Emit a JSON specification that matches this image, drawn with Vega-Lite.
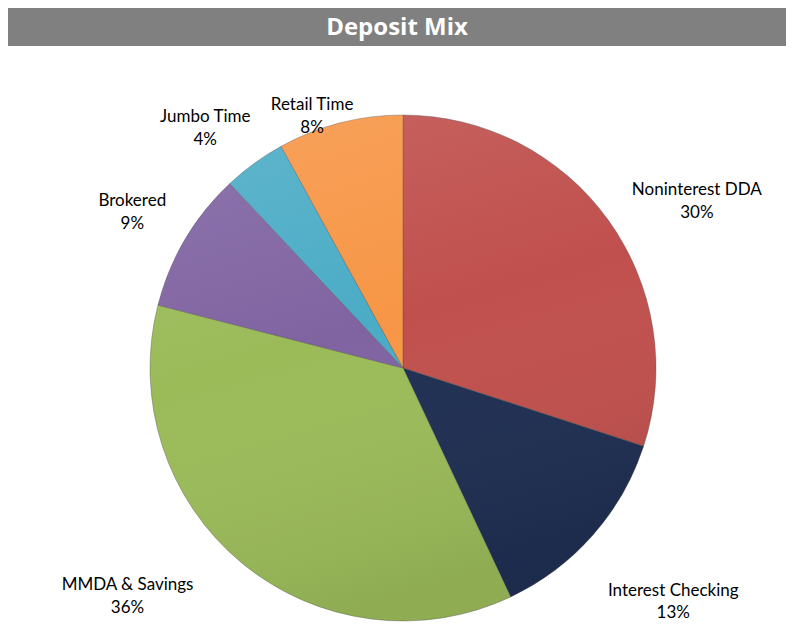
{
  "$schema": "https://vega.github.io/schema/vega-lite/v6.json",
  "padding": {"left": 8, "top": 8, "right": 0, "bottom": 0},
  "background": "#ffffff",
  "spacing": 0,
  "config": {"view": {"stroke": null}, "concat": {"spacing": 0}},
  "datasets": {
    "mix": [
      {"segment": "Noninterest DDA", "pct": 30, "order": 1},
      {"segment": "Interest Checking", "pct": 13, "order": 2},
      {"segment": "MMDA & Savings", "pct": 36, "order": 3},
      {"segment": "Brokered", "pct": 9, "order": 4},
      {"segment": "Jumbo Time", "pct": 4, "order": 5},
      {"segment": "Retail Time", "pct": 8, "order": 6}
    ],
    "header": [{"title": "Deposit Mix"}]
  },
  "vconcat": [
    {
      "width": 778,
      "height": 38,
      "view": {"fill": "#808080", "stroke": null},
      "data": {"name": "header"},
      "mark": {"type": "text", "font": "Open Sans", "fontWeight": "bold", "fontSize": 24, "color": "#ffffff", "align": "center", "baseline": "middle", "dy": 1},
      "encoding": {"text": {"field": "title"}}
    },
    {
      "width": 790,
      "height": 644,
      "data": {"name": "mix"},
      "transform": [
        {"window": [{"op": "sum", "field": "pct", "as": "end"}], "sort": [{"field": "order"}]},
        {"calculate": "datum.end - datum.pct", "as": "start"},
        {"calculate": "(datum.start + datum.end) / 2", "as": "mid"},
        {"calculate": "datum.segment + '\\n' + datum.pct + '%'", "as": "label"}
      ],
      "layer": [
        {
          "mark": {"type": "arc", "outerRadius": 253, "stroke": "#4a4a4a", "strokeWidth": 0.6, "strokeOpacity": 0.6},
          "encoding": {
            "theta": {"field": "start", "type": "quantitative", "scale": {"domain": [0, 100]}},
            "theta2": {"field": "end"},
            "color": {
              "field": "segment",
              "type": "nominal",
              "legend": null,
              "scale": {
                "domain": ["Noninterest DDA", "Interest Checking", "MMDA & Savings", "Brokered", "Jumbo Time", "Retail Time"],
                "range": ["#c0504d", "#1f2f52", "#9bbb59", "#8064a2", "#4bacc6", "#f79646"]
              }
            }
          }
        },
        {
          "transform": [{"filter": "datum.order == 1"}],
          "mark": {
            "type": "arc", "outerRadius": 253, "theta": 0, "theta2": 6.2832,
            "fill": {"gradient": "linear", "x1": 0, "y1": 0, "x2": 0.3, "y2": 1,
              "stops": [{"offset": 0, "color": "rgba(255,255,255,0.12)"}, {"offset": 0.5, "color": "rgba(255,255,255,0)"}, {"offset": 1, "color": "rgba(0,0,0,0.08)"}]}
          },
          "encoding": {}
        },
        {
          "transform": [{"filter": "datum.segment == 'Noninterest DDA'"}],
          "mark": {"type": "text", "radius": 336, "dx": 22, "dy": 19, "lineBreak": "\n", "font": "Lato", "fontSize": 17, "lineHeight": 23, "color": "#000000", "align": "center", "baseline": "middle"},
          "encoding": {"theta": {"field": "mid", "type": "quantitative", "scale": {"domain": [0, 100]}}, "text": {"field": "label"}}
        },
        {
          "transform": [{"filter": "datum.segment == 'Interest Checking'"}],
          "mark": {"type": "text", "radius": 343, "dx": 13, "dy": -4, "lineBreak": "\n", "font": "Lato", "fontSize": 17, "lineHeight": 22, "color": "#000000", "align": "center", "baseline": "middle"},
          "encoding": {"theta": {"field": "mid", "type": "quantitative", "scale": {"domain": [0, 100]}}, "text": {"field": "label"}}
        },
        {
          "transform": [{"filter": "datum.segment == 'MMDA & Savings'"}],
          "mark": {"type": "text", "radius": 349, "dx": -53, "dy": -52, "lineBreak": "\n", "font": "Lato", "fontSize": 17, "lineHeight": 23, "color": "#000000", "align": "center", "baseline": "middle"},
          "encoding": {"theta": {"field": "mid", "type": "quantitative", "scale": {"domain": [0, 100]}}, "text": {"field": "label"}}
        },
        {
          "transform": [{"filter": "datum.segment == 'Brokered'"}],
          "mark": {"type": "text", "radius": 311, "dx": -3, "dy": -9, "lineBreak": "\n", "font": "Lato", "fontSize": 17, "lineHeight": 23, "color": "#000000", "align": "center", "baseline": "middle"},
          "encoding": {"theta": {"field": "mid", "type": "quantitative", "scale": {"domain": [0, 100]}}, "text": {"field": "label"}}
        },
        {
          "transform": [{"filter": "datum.segment == 'Jumbo Time'"}],
          "mark": {"type": "text", "radius": 316, "dx": -12, "dy": 5, "lineBreak": "\n", "font": "Lato", "fontSize": 17, "lineHeight": 23, "color": "#000000", "align": "center", "baseline": "middle"},
          "encoding": {"theta": {"field": "mid", "type": "quantitative", "scale": {"domain": [0, 100]}}, "text": {"field": "label"}}
        },
        {
          "transform": [{"filter": "datum.segment == 'Retail Time'"}],
          "mark": {"type": "text", "radius": 273, "dx": -23, "dy": 1, "lineBreak": "\n", "font": "Lato", "fontSize": 17, "lineHeight": 23, "color": "#000000", "align": "center", "baseline": "middle"},
          "encoding": {"theta": {"field": "mid", "type": "quantitative", "scale": {"domain": [0, 100]}}, "text": {"field": "label"}}
        }
      ]
    }
  ]
}
